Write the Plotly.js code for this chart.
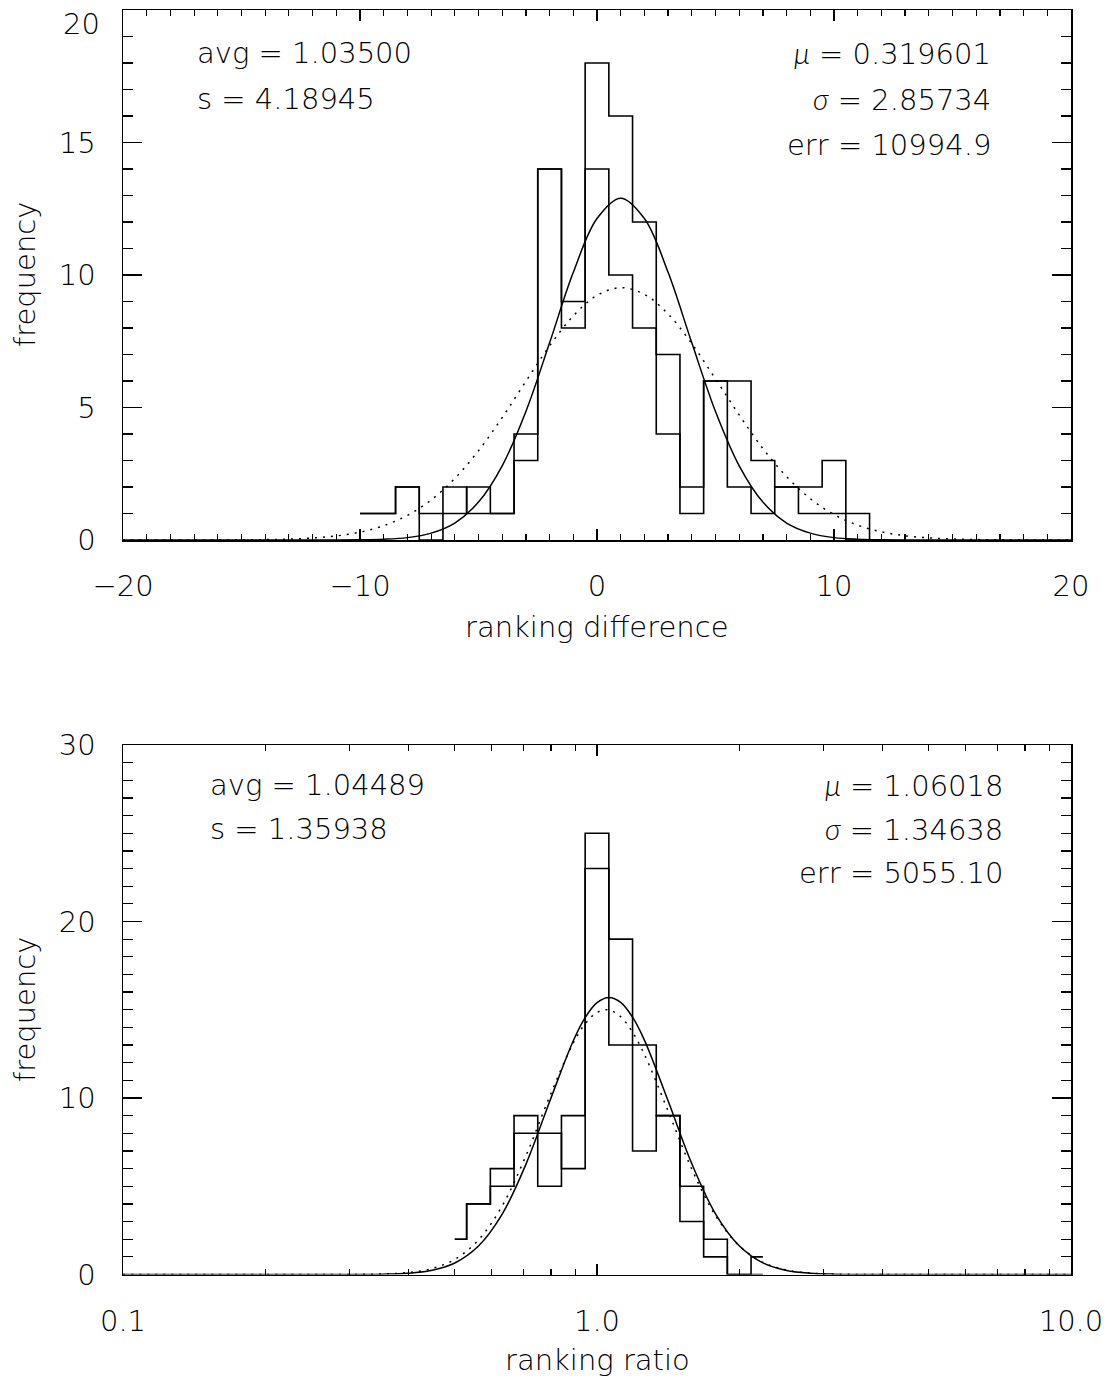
<!DOCTYPE html>
<html>
<head>
<meta charset="utf-8">
<script src="https://cdn.plot.ly/plotly-3.0.1.min.js"></script>
<style>html,body{margin:0;padding:0;background:#fff;}</style>
</head>
<body>
<div id="chart" style="width:1109px;height:1381px;"></div>
<script>
// ---------- top panel: ranking difference ----------
var diffBins   = [-10,-9,-8,-7,-6,-5,-4,-3,-2,-1,0,1,2,3,4,5,6,7,8,9,10,11,12];
var diffHistA  = [1,1,2,0,2,1,1,4,14,9,18,16,12,7,2,6,6,3,2,2,3,0,0];
var diffHistB  = [1,1,2,1,1,2,1,3,14,8,14,10,8,4,1,6,2,1,2,1,1,1,0];

var diffFitX   = [-20,-12,-11,-10,-9,-8,-7,-6,-5,-4,-3,-2,-1,0,1,2,3,4,5,6,7,8,9,10,11,12,13,14,20];
var diffFitY   = [0,0.0004,0.002,0.008,0.029,0.09,0.26,0.64,1.43,2.80,4.85,7.44,10.10,12.13,12.9,12.13,10.10,7.44,4.85,2.80,1.43,0.64,0.26,0.09,0.03,0.008,0.002,0.0004,0];

var diffGaussX = [-20,-17,-16,-15,-14,-13,-12,-11,-10,-9,-8,-7,-6,-5,-4,-3,-2,-1,0,1,2,3,4,5,6,7,8,9,10,11,12,13,14,15,16,17,18,20];
var diffGaussY = [0,0.0009,0.0024,0.0063,0.015,0.035,0.075,0.153,0.296,0.54,0.93,1.51,2.32,3.37,4.62,5.99,7.32,8.46,9.23,9.52,9.27,8.53,7.41,6.08,4.72,3.45,2.39,1.56,0.96,0.56,0.31,0.16,0.079,0.037,0.016,0.0067,0.0026,0];

var diffYTicks = [0,5,10,15,20];
var diffYText  = ['0','5','10','15','20'];

// ---------- bottom panel: ranking ratio ----------
var ratioBins  = [0.5012,0.5623,0.6310,0.7079,0.7943,0.8913,1.0000,1.1220,1.2589,1.4125,1.5849,1.7783,1.9953,2.2387];
var ratioHistA = [2,4,6,9,8,6,25,19,13,9,5,2,0,1];
var ratioHistB = [2,4,5,8,5,9,23,13,7,9,3,1,0,0];

var ratioCurveX = [0.1,0.2512,0.2818,0.3162,0.3548,0.3981,0.4467,0.5012,0.5623,0.6310,0.7079,0.7943,0.8913,0.9441,1.0000,1.0593,1.1220,1.1885,1.2589,1.4125,1.5849,1.7783,1.9953,2.2387,2.5119,2.8184,3.1623,3.5481,3.9811,10];
var ratioFitY   = [0,0.0001,0.0008,0.004,0.018,0.068,0.228,0.65,1.61,3.42,6.24,9.79,13.24,14.55,15.40,15.70,15.42,14.58,13.28,9.84,6.28,3.44,1.63,0.66,0.23,0.07,0.018,0.004,0.0008,0];
var ratioGaussY = [0,0.0003,0.0017,0.0077,0.031,0.107,0.326,0.855,1.96,3.89,6.72,10.07,13.12,14.20,14.85,14.99,14.60,13.73,12.47,9.26,5.97,3.34,1.63,0.69,0.25,0.08,0.022,0.005,0.0011,0];

var ratioXTicks = [0.1,1,10];
var ratioXText  = ['0.1','1.0','10.0'];
var ratioXMinor = [0.2,0.3,0.4,0.5,0.6,0.7,0.8,0.9,2,3,4,5,6,7,8,9];

var GR = '<span style="font-family:Lato;font-weight:300;font-style:italic">';
var topLeftText  = ['avg = 1.03500','s = 4.18945'];
var topRightText = [GR+'μ</span> = 0.319601', GR+'σ</span> = 2.85734','err = 10994.9'];
var botLeftText  = ['avg = 1.04489','s = 1.35938'];
var botRightText = [GR+'μ</span> = 1.06018', GR+'σ</span> = 1.34638','err = 5055.10'];

var W = 1109, H = 1381;
var FONT = {family:'DejaVu Sans, sans-serif', size:29, color:'#000', weight:200};
function px(x){return x/W;}
function py(y){return 1 - y/H;}

var histLine = {color:'#000', width:1.6, shape:'hvh'};
var traces = [
  {x:diffBins, y:diffHistA, mode:'lines', line:histLine, xaxis:'x', yaxis:'y'},
  {x:diffBins, y:diffHistB, mode:'lines', line:histLine, xaxis:'x', yaxis:'y'},
  {x:diffFitX, y:diffFitY, mode:'lines', line:{color:'#000', width:1.5, shape:'spline'}, xaxis:'x', yaxis:'y'},
  {x:diffGaussX, y:diffGaussY, mode:'lines', line:{color:'#000', width:1.5, shape:'spline', dash:'2px,6px'}, xaxis:'x', yaxis:'y'},
  {x:ratioBins, y:ratioHistA, mode:'lines', line:histLine, xaxis:'x2', yaxis:'y2'},
  {x:ratioBins, y:ratioHistB, mode:'lines', line:histLine, xaxis:'x2', yaxis:'y2'},
  {x:ratioCurveX, y:ratioFitY, mode:'lines', line:{color:'#000', width:1.5, shape:'spline'}, xaxis:'x2', yaxis:'y2'},
  {x:ratioCurveX, y:ratioGaussY, mode:'lines', line:{color:'#000', width:1.5, shape:'spline', dash:'2px,6px'}, xaxis:'x2', yaxis:'y2'}
];

var xDom = [px(123), px(1071)];
var common = {showline:true, linecolor:'#000', linewidth:1.5, mirror:'ticks', ticks:'inside',
              tickcolor:'#000', tickwidth:1.2, showgrid:false, zeroline:false, tickfont:FONT,
              fixedrange:true, ticklabeloverflow:'allow'};
function ax(o){ var r = {}; for (var k in common) r[k]=common[k]; for (var k2 in o) r[k2]=o[k2]; return r; }

var anns = [];
function addAnn(t, x, y, xa, extra){
  var a = {text:t, x:px(x), y:py(y), xref:'paper', yref:'paper', xanchor:xa, yanchor:'middle', showarrow:false, font:FONT};
  if (extra) for (var k in extra) a[k]=extra[k];
  anns.push(a);
}
var topY = [53, 99, 145], botY = [785, 829, 873];
topLeftText.forEach(function(t,i){ addAnn(t, 195, topY[i], 'left'); });
topRightText.forEach(function(t,i){ addAnn(t, 993, topY[i], 'right'); });
botLeftText.forEach(function(t,i){ addAnn(t, 208, botY[i], 'left'); });
botRightText.forEach(function(t,i){ addAnn(t, 1005, botY[i], 'right'); });
// top tick label of the upper y axis sits just inside the page, as in the reference
addAnn(diffYText[4], 102, 24, 'right');
addAnn('ranking difference', 597, 627, 'center');
addAnn('ranking ratio', 597, 1360, 'center');
addAnn('frequency', 25, 275, 'center', {textangle:-90});
addAnn('frequency', 25, 1010, 'center', {textangle:-90});

var layout = {
  width:W, height:H, margin:{l:0,r:0,t:0,b:0}, showlegend:false,
  paper_bgcolor:'#fff', plot_bgcolor:'#fff',
  xaxis: ax({domain:xDom, anchor:'y', range:[-20,20], tick0:0, dtick:10, ticklen:11,
             minor:{dtick:1, ticklen:6, ticks:'inside', tickcolor:'#000', tickwidth:1.2},
             ticklabelstandoff:20}),
  yaxis: ax({domain:[py(540), py(10)], anchor:'x', range:[0,20], tickmode:'array',
             tickvals:diffYTicks, ticktext:diffYText.slice(0,4).concat(['']), ticklen:19,
             minor:{dtick:1, ticklen:10, ticks:'inside', tickcolor:'#000', tickwidth:1.2},
             ticklabelstandoff:20}),
  xaxis2: ax({domain:xDom, anchor:'y2', type:'log', range:[-1,1], tickmode:'array',
              tickvals:ratioXTicks, ticktext:ratioXText, ticklen:11,
              minor:{tickmode:'array', tickvals:ratioXMinor, ticklen:6, ticks:'inside', tickcolor:'#000', tickwidth:1.2},
              ticklabelstandoff:20}),
  yaxis2: ax({domain:[py(1274.5), py(745)], anchor:'x2', range:[0,30], tick0:0, dtick:10, ticklen:19,
              minor:{dtick:1, ticklen:10, ticks:'inside', tickcolor:'#000', tickwidth:1.2},
              ticklabelstandoff:20}),
  annotations: anns
};

Plotly.newPlot('chart', traces, layout, {displayModeBar:false, staticPlot:true});
</script>
</body>
</html>
